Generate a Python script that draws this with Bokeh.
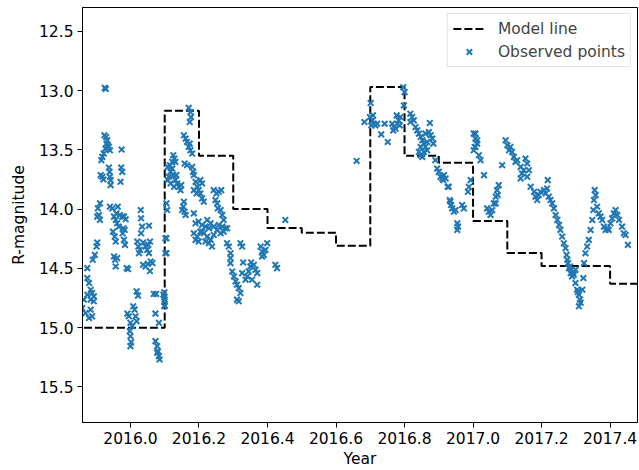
from bokeh.plotting import figure
from bokeh.models import Range1d, FixedTicker, PrintfTickFormatter, Legend, LegendItem
from bokeh.embed import file_html
from bokeh.resources import INLINE

# Model (step) line
model_x = [2015.8, 2016.1, 2016.2, 2016.3, 2016.4, 2016.5, 2016.6, 2016.7, 2016.8,
           2016.9, 2017.0, 2017.1, 2017.2, 2017.3, 2017.4, 2017.5]
model_y = [15.00, 13.17, 13.55, 14.00, 14.16, 14.20, 14.31, 12.97, 13.55,
           13.61, 14.10, 14.37, 14.48, 14.48, 14.63, 14.63]

# Observed points
obs_year = [
    2015.859, 2015.869, 2015.879, 2015.884, 2015.888, 2015.864, 2015.874, 2015.874, 2015.879, 2015.884,
    2015.888, 2015.893, 2015.884, 2015.893, 2015.874, 2015.890, 2015.896, 2015.901, 2015.903, 2015.903,
    2015.908, 2015.911, 2015.905, 2015.911, 2015.913, 2015.918, 2015.921, 2015.915, 2015.918, 2015.922,
    2015.927, 2015.930, 2015.932, 2015.934, 2015.937, 2015.940, 2015.924, 2015.929, 2015.925, 2015.928,
    2015.937, 2015.939, 2015.940, 2015.942, 2015.942, 2015.940, 2015.947, 2015.952, 2015.957, 2015.961,
    2015.966, 2015.959, 2015.963, 2015.949, 2015.954, 2015.957, 2015.952, 2015.955, 2015.957, 2015.961,
    2015.974, 2015.973, 2015.976, 2015.971, 2015.969, 2015.976, 2015.981, 2015.986, 2015.979, 2015.983,
    2015.977, 2015.981, 2015.984, 2015.989, 2015.993, 2015.991, 2015.995, 2016.000, 2016.005, 2015.998,
    2016.000, 2016.002, 2016.000, 2016.008, 2016.012, 2016.015, 2016.018, 2016.018, 2016.022, 2016.020,
    2016.023, 2016.028, 2016.025, 2016.030, 2016.031, 2016.034, 2016.031, 2016.037, 2016.044, 2016.049,
    2016.052, 2016.057, 2016.054, 2016.037, 2016.044, 2016.051, 2016.059, 2016.064, 2016.054, 2016.057,
    2016.068, 2016.075, 2016.073, 2016.073, 2016.078, 2016.080, 2016.083, 2016.085, 2016.078, 2016.083,
    2016.096, 2016.100, 2016.100, 2016.105, 2016.105, 2016.105, 2016.107,
    2016.099, 2016.099, 2016.099, 2016.099, 2016.102, 2016.102, 2016.109, 2016.115, 2016.122, 2016.117,
    2016.112, 2016.125, 2016.131, 2016.136, 2016.141, 2016.146, 2016.127, 2016.117, 2016.109, 2016.134,
    2016.148, 2016.125, 2016.128, 2016.131, 2016.122, 2016.158, 2016.165, 2016.156, 2016.154, 2016.158,
    2016.161, 2016.151, 2016.156, 2016.161, 2016.165, 2016.170, 2016.175, 2016.180, 2016.173, 2016.170,
    2016.175, 2016.177, 2016.173, 2016.180, 2016.183, 2016.185, 2016.190, 2016.195, 2016.199, 2016.204,
    2016.209, 2016.214, 2016.204, 2016.209, 2016.185, 2016.193, 2016.185, 2016.243, 2016.251, 2016.258,
    2016.265, 2016.248, 2016.253, 2016.255, 2016.263, 2016.268, 2016.272, 2016.190, 2016.199, 2016.209,
    2016.219, 2016.229, 2016.234, 2016.243, 2016.253, 2016.258, 2016.268, 2016.277, 2016.185, 2016.195,
    2016.204, 2016.214, 2016.224, 2016.234, 2016.243, 2016.263, 2016.272, 2016.282, 2016.190, 2016.199,
    2016.219, 2016.229, 2016.238, 2016.209, 2016.224, 2016.282, 2016.287, 2016.321, 2016.326, 2016.292,
    2016.292, 2016.292, 2016.329, 2016.352, 2016.297, 2016.302, 2016.307, 2016.311, 2016.316, 2016.321,
    2016.316, 2016.311, 2016.326, 2016.336, 2016.341, 2016.345, 2016.350, 2016.360, 2016.365, 2016.370,
    2016.355, 2016.370, 2016.380, 2016.384, 2016.389, 2016.394, 2016.399, 2016.384, 2016.423, 2016.428,
    2016.452, 2016.660,
    2016.701, 2016.683, 2016.699, 2016.706, 2016.710, 2016.715, 2016.703, 2016.720, 2016.708, 2016.742,
    2016.732, 2016.751, 2016.764, 2016.769, 2016.774, 2016.779, 2016.783, 2016.777, 2016.788, 2016.786,
    2016.767, 2016.796, 2016.800, 2016.798, 2016.817, 2016.822, 2016.827, 2016.817, 2016.832, 2016.837,
    2016.842, 2016.847, 2016.852, 2016.856, 2016.861, 2016.866, 2016.847, 2016.856, 2016.852, 2016.861,
    2016.871, 2016.876, 2016.881, 2016.874, 2016.884, 2016.866, 2016.842, 2016.847, 2016.890, 2016.895,
    2016.900, 2016.905, 2016.910, 2016.915, 2016.920, 2016.913, 2016.929, 2016.932, 2016.936, 2016.939,
    2016.944, 2016.949, 2016.968, 2016.973, 2016.954, 2016.956, 2016.954, 2017.002, 2017.007, 2017.012,
    2017.007, 2017.002, 2017.017, 2017.022, 2017.012, 2017.032, 2016.993, 2016.988, 2016.985, 2017.041,
    2017.046, 2017.051, 2017.056, 2017.061, 2017.066, 2017.070, 2017.075, 2017.072,
    2017.007, 2017.005, 2017.066, 2016.926, 2016.934,
    2017.085, 2017.095, 2017.100, 2017.105, 2017.109, 2017.114, 2017.119, 2017.124, 2017.129, 2017.139,
    2017.143, 2017.148, 2017.153, 2017.158, 2017.163, 2017.158, 2017.139, 2017.168, 2017.178, 2017.182,
    2017.187, 2017.192, 2017.197, 2017.207, 2017.212, 2017.216, 2017.218, 2017.221, 2017.226, 2017.231,
    2017.236, 2017.241, 2017.246, 2017.251, 2017.255, 2017.260, 2017.265, 2017.270, 2017.273, 2017.275,
    2017.280, 2017.285, 2017.289, 2017.294, 2017.299, 2017.299, 2017.304, 2017.309, 2017.312, 2017.309,
    2017.319, 2017.322, 2017.324, 2017.328, 2017.333, 2017.338, 2017.343, 2017.348, 2017.351, 2017.353,
    2017.355, 2017.358, 2017.362, 2017.367, 2017.372, 2017.377, 2017.382, 2017.387, 2017.392, 2017.396,
    2017.401, 2017.406, 2017.411, 2017.416, 2017.421, 2017.426, 2017.435, 2017.440, 2017.445, 2017.452,
    2017.277, 2017.287, 2017.283, 2017.292, 2017.306, 2017.314,
]
obs_mag = [
    14.835, 14.877, 14.919, 14.849, 14.905, 14.764, 14.722, 14.582, 14.624, 14.680,
    14.708, 14.736, 14.764, 14.778, 14.498, 14.428, 14.386, 14.316, 14.282, 14.064,
    14.050, 14.092, 13.994, 13.952, 13.714, 13.728, 13.750, 13.588, 13.560, 13.532,
    13.490, 13.448, 13.420, 13.462, 13.476, 13.504, 13.378, 13.392, 12.978, 12.986,
    13.650, 13.686, 13.728, 13.756, 13.798, 13.980, 13.994, 14.064, 14.092, 14.120,
    14.148, 14.036, 13.980, 14.190, 14.232, 14.274, 14.400, 14.428, 14.484, 14.414,
    13.498, 13.650, 13.686, 13.770, 14.050, 14.064, 14.064, 14.086, 14.162, 14.176,
    14.204, 14.260, 14.302, 14.498, 14.506, 14.882, 14.904, 14.960, 14.988, 15.030,
    15.072, 15.122, 15.156, 14.820, 14.848, 14.904, 14.946, 14.694, 14.730, 14.274,
    14.316, 14.344, 14.372, 14.008, 14.078, 14.148, 14.204, 14.282, 14.316, 14.344,
    14.302, 14.274, 14.372, 14.470, 14.484, 14.462, 14.442, 14.456, 14.140, 14.523,
    14.716, 14.716, 14.882, 15.114, 15.156, 15.198, 15.240, 15.268, 15.212, 14.960,
    14.722, 14.764, 14.814, 14.372, 14.246, 13.952, 14.008,
    14.702, 14.742, 14.781, 14.820, 14.372, 14.246, 13.644, 13.630, 13.658, 13.686,
    13.728, 13.714, 13.756, 13.784, 13.812, 13.840, 13.812, 13.784, 13.756, 13.714,
    13.798, 13.546, 13.574, 13.602, 13.602, 13.616, 13.630, 13.938, 13.980, 14.022,
    14.050, 14.008, 13.378, 13.406, 13.434, 13.476, 13.504, 13.532, 13.448, 13.146,
    13.182, 13.224, 13.266, 13.644, 13.686, 13.714, 13.770, 13.812, 13.840, 13.868,
    13.910, 13.938, 13.756, 13.784, 13.840, 13.868, 14.036, 13.840, 13.868, 13.854,
    13.840, 13.924, 13.952, 13.994, 14.008, 14.050, 14.092, 14.120, 14.106, 14.134,
    14.148, 14.162, 14.120, 14.148, 14.176, 14.134, 14.148, 14.162, 14.204, 14.232,
    14.190, 14.204, 14.232, 14.260, 14.218, 14.204, 14.190, 14.162, 14.260, 14.274,
    14.274, 14.288, 14.316, 14.190, 14.092, 14.288, 14.316, 14.288, 14.316, 14.372,
    14.414, 14.456, 14.450, 14.450, 14.526, 14.568, 14.610, 14.638, 14.666, 14.708,
    14.778, 14.764, 14.540, 14.596, 14.568, 14.526, 14.484, 14.470, 14.512, 14.540,
    14.596, 14.638, 14.316, 14.358, 14.386, 14.344, 14.288, 14.400, 14.470, 14.498,
    14.092, 13.594,
    13.106, 13.266, 13.224, 13.252, 13.280, 13.294, 13.294, 13.280, 13.210, 13.280,
    13.370, 13.434, 13.280, 13.308, 13.322, 13.280, 13.252, 13.210, 13.224, 13.294,
    13.336, 12.972, 13.014, 13.126, 13.196, 13.224, 13.252, 13.266, 13.308, 13.336,
    13.364, 13.392, 13.420, 13.448, 13.476, 13.504, 13.476, 13.518, 13.560, 13.364,
    13.350, 13.378, 13.406, 13.274, 13.448, 13.434, 13.518, 13.546, 13.588, 13.658,
    13.686, 13.728, 13.742, 13.714, 13.742, 13.756, 13.812, 13.924, 13.966, 13.994,
    14.022, 14.008, 13.966, 13.994, 14.120, 14.148, 14.176, 13.364, 13.406, 13.448,
    13.476, 13.504, 13.546, 13.588, 13.420, 13.714, 13.756, 13.812, 13.854, 13.994,
    14.022, 14.050, 14.008, 13.952, 13.896, 13.840, 13.798, 13.882,
    13.364, 13.476, 13.952, 13.812, 13.938,
    13.630, 13.420, 13.462, 13.504, 13.476, 13.518, 13.560, 13.602, 13.588, 13.644,
    13.700, 13.672, 13.574, 13.616, 13.672, 13.728, 13.742, 13.812, 13.854, 13.896,
    13.924, 13.882, 13.854, 13.840, 13.868, 13.826, 13.756, 13.896, 13.924, 13.952,
    13.994, 14.050, 14.092, 14.134, 14.176, 14.232, 14.288, 14.330, 14.386, 14.428,
    14.498, 14.540, 14.568, 14.554, 14.512, 14.624, 14.680, 14.722, 14.764, 14.820,
    14.680, 14.582, 14.456, 14.372, 14.316, 14.260, 14.176, 14.092, 14.008, 13.924,
    13.840, 13.882, 13.980, 14.036, 14.064, 14.092, 14.148, 14.176, 14.162, 14.176,
    14.120, 14.078, 14.036, 14.008, 14.050, 14.092, 14.148, 14.204, 14.218, 14.302,
    14.456, 14.512, 14.484, 14.540, 14.700, 14.790,
]

x_ticks = [2016.0, 2016.2, 2016.4, 2016.6, 2016.8, 2017.0, 2017.2, 2017.4]
y_ticks = [12.5, 13.0, 13.5, 14.0, 14.5, 15.0, 15.5]

FONT = "DejaVu Sans"
FS = "15.5px"

p = figure(width=639, height=470, output_backend="svg", toolbar_location=None,
           x_range=Range1d(2015.86, 2017.48), y_range=Range1d(15.80, 12.30),
           min_border_left=82, min_border_right=2, min_border_top=7, min_border_bottom=47)
p.xgrid.visible = False
p.ygrid.visible = False
p.outline_line_color = "black"
p.outline_line_width = 1
p.background_fill_color = "white"
p.border_fill_color = "white"

for ax in (p.xaxis[0], p.yaxis[0]):
    ax.major_label_text_font = FONT
    ax.major_label_text_font_size = FS
    ax.major_label_text_color = "black"
    ax.axis_label_text_font = FONT
    ax.axis_label_text_font_size = FS
    ax.axis_label_text_font_style = "normal"
    ax.axis_label_text_color = "black"
    ax.minor_tick_line_color = None
    ax.major_tick_out = 5
    ax.major_tick_in = 0
    ax.major_tick_line_color = "black"
    ax.axis_line_color = "black"
    ax.major_label_standoff = 4

p.xaxis.ticker = FixedTicker(ticks=x_ticks)
p.yaxis.ticker = FixedTicker(ticks=y_ticks)
p.xaxis.formatter = PrintfTickFormatter(format="%.1f")
p.yaxis.formatter = PrintfTickFormatter(format="%.1f")
p.xaxis.axis_label = "Year"
p.yaxis.axis_label = "R-magnitude"
p.xaxis.axis_label_standoff = 3
p.yaxis.axis_label_standoff = 8

r_line = p.step(model_x, model_y, mode="after", line_color="black", line_width=2,
                line_dash="8 3")
r_pts = p.scatter(obs_year, obs_mag, marker="x", size=8, line_width=2,
                  line_color="#1f77b4")

legend = Legend(items=[LegendItem(label="Model line", renderers=[r_line]),
                       LegendItem(label="Observed points", renderers=[r_pts])],
                location="top_right")
legend.label_text_font = FONT
legend.label_text_font_size = FS
legend.border_line_color = "#cccccc"
legend.border_line_width = 1
legend.background_fill_alpha = 0.8
legend.glyph_width = 32
legend.glyph_height = 19
legend.label_standoff = 13
legend.label_height = 19
legend.spacing = 4
legend.padding = 5
legend.margin = 6
p.add_layout(legend)

open("out.html", "w").write(file_html(p, INLINE))
